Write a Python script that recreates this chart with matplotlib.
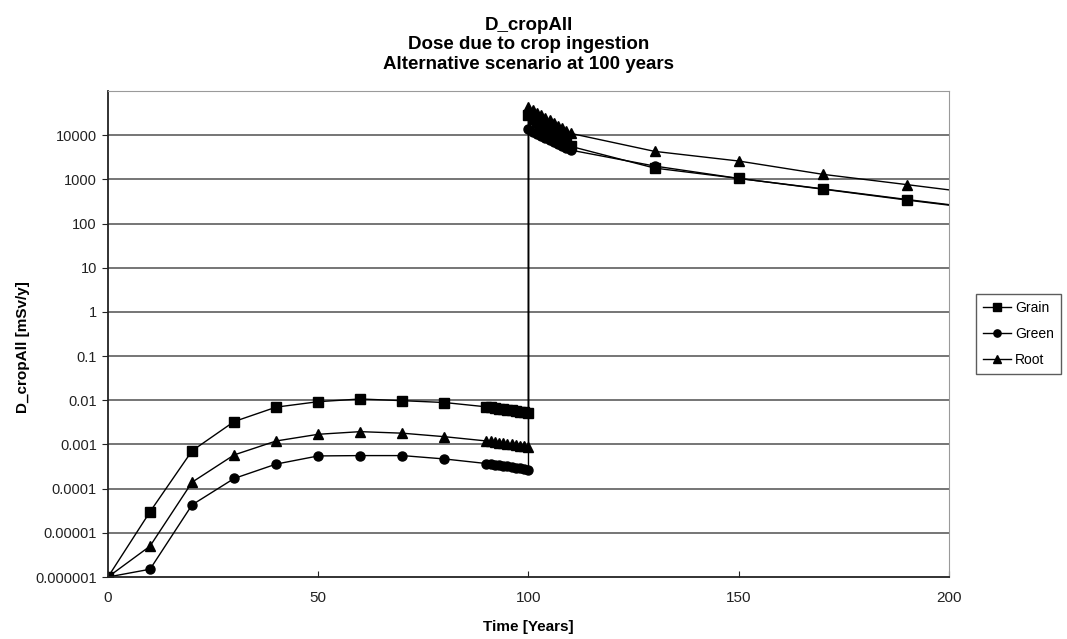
import numpy as np
import matplotlib
matplotlib.use("Agg")
import matplotlib.pyplot as plt
from matplotlib.ticker import FixedLocator, NullLocator

plt.rcParams['font.family'] = ['Liberation Sans', 'DejaVu Sans']

# Zeitachse (Jahre): bis 100 Jahre, dann Sprung bei 100, danach Abklingen
t = [0, 10, 20, 30, 40, 50, 60, 70, 80,
     90, 91, 92, 93, 94, 95, 96, 97, 98, 99, 100,
     100, 101, 102, 103, 104, 105, 106, 107, 108, 109, 110,
     130, 150, 170, 190, 210]

grain = [1e-6, 3e-5, 7.2e-4, 3.3e-3, 7.0e-3, 9.3e-3, 1.07e-2, 9.8e-3, 8.9e-3,
         7.1e-3, 6.9e-3, 6.7e-3, 6.5e-3, 6.3e-3, 6.1e-3, 5.9e-3, 5.7e-3, 5.5e-3, 5.3e-3, 5.1e-3,
         2.8e4, 2.3e4, 1.95e4, 1.65e4, 1.4e4, 1.2e4, 1.0e4, 8.7e3, 7.5e3, 6.5e3, 5.6e3,
         1.8e3, 1.05e3, 6.1e2, 3.5e2, 2.05e2]

green = [1e-6, 1.5e-6, 4.3e-5, 1.7e-4, 3.6e-4, 5.5e-4, 5.6e-4, 5.6e-4, 4.7e-4,
         3.7e-4, 3.6e-4, 3.5e-4, 3.4e-4, 3.3e-4, 3.2e-4, 3.1e-4, 3.0e-4, 2.9e-4, 2.8e-4, 2.7e-4,
         1.35e4, 1.2e4, 1.07e4, 9.6e3, 8.6e3, 7.8e3, 7.0e3, 6.3e3, 5.7e3, 5.1e3, 4.6e3,
         2.0e3, 1.05e3, 6.0e2, 3.4e2, 2.0e2]

root = [1e-6, 5e-6, 1.4e-4, 5.8e-4, 1.2e-3, 1.7e-3, 1.95e-3, 1.8e-3, 1.5e-3,
        1.2e-3, 1.17e-3, 1.14e-3, 1.1e-3, 1.07e-3, 1.03e-3, 1.0e-3, 0.96e-3, 0.93e-3, 0.9e-3, 0.86e-3,
        4.3e4, 3.7e4, 3.2e4, 2.8e4, 2.45e4, 2.15e4, 1.9e4, 1.65e4, 1.45e4, 1.27e4, 1.1e4,
        4.3e3, 2.6e3, 1.3e3, 7.6e2, 4.4e2]

y_ticks = [1e-6, 1e-5, 1e-4, 1e-3, 1e-2, 1e-1, 1, 10, 100, 1000, 10000]
y_labels = ['0.000001', '0.00001', '0.0001', '0.001', '0.01', '0.1',
            '1', '10', '100', '1000', '10000']
x_ticks = [0, 50, 100, 150, 200]

fig = plt.figure(figsize=(10.67, 6.39), dpi=100)
ax = fig.add_axes([0.1012, 0.097, 0.7882, 0.7606])

ax.plot(t, grain, color='black', lw=1, marker='s', ms=6.5, label='Grain')
ax.plot(t, green, color='black', lw=1, marker='o', ms=6.5, label='Green')
ax.plot(t, root, color='black', lw=1, marker='^', ms=6.5, label='Root')

ax.set_yscale('log')
ax.set_ylim(1e-6, 1e5)
ax.set_xlim(0, 200)
ax.yaxis.set_major_locator(FixedLocator(y_ticks))
ax.yaxis.set_minor_locator(NullLocator())
ax.set_yticklabels(y_labels)
ax.set_xticks(x_ticks)

for yt in y_ticks[1:] + [1e5]:
    ax.axhline(yt, color='#6a6a6a', lw=1.3, zorder=0)

ax.spines['top'].set_color('#9a9a9a')
ax.spines['right'].set_color('#9a9a9a')
ax.spines['left'].set_color('#222222')
ax.spines['bottom'].set_color('#222222')
ax.spines['left'].set_linewidth(1.3)
ax.spines['bottom'].set_linewidth(1.3)

ax.tick_params(axis='y', direction='out', length=4, labelsize=10.5, colors='#222222', pad=4)
ax.tick_params(axis='x', direction='in', length=4, labelsize=11, colors='#222222', pad=10)

ax.set_ylabel('D_cropAll [mSv/y]', fontsize=11, fontweight='bold')
ax.yaxis.set_label_coords(-0.093, 0.473)
ax.set_xlabel('Time [Years]', fontsize=11, fontweight='bold', labelpad=11)
ax.set_title('D_cropAll\nDose due to crop ingestion\nAlternative scenario at 100 years',
             fontsize=13.5, fontweight='bold', pad=16, linespacing=1.2)

leg = ax.legend(loc='center left', bbox_to_anchor=(1.032, 0.5), frameon=True,
                fancybox=False, edgecolor='#333333', fontsize=10, markerscale=0.8,
                handlelength=2.0, borderpad=0.5, labelspacing=0.85, handletextpad=0.3,
                borderaxespad=0)
leg.get_frame().set_linewidth(1)

fig.savefig('out.png', dpi=100)
